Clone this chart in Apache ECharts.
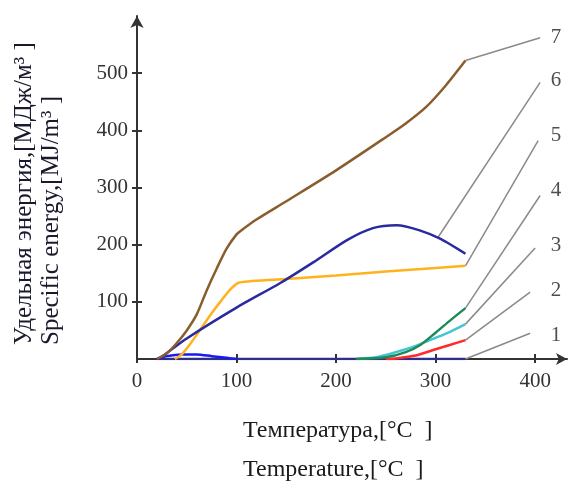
<!DOCTYPE html>
<html>
<head>
<meta charset="utf-8">
<script src="https://cdn.jsdelivr.net/npm/echarts@6/dist/echarts.min.js"></script>
<style>
html,body{margin:0;padding:0;background:#fff;}
#chart{width:571px;height:487px;}
</style>
</head>
<body>
<div id="chart"></div>
<script>
// ---- data (temperature °C, specific energy MJ/m³) ----
const curve7 = [[20,0],[30,10],[40,28],[50,50],[60,78],[70,120],[80,158],[90,193],[100,218],[104,224],[120,244],[150,276],[200,330],[250,388],[270,412],[290,440],[310,478],[330,522]];
const curve6 = [[22,0],[50,36],[100,90],[144,133],[177,169],[211,208],[237,229],[261,234],[284,225],[305,210],[330,184]];
const curve6start = [[20,0],[30,5],[45,8],[60,8],[75,5],[90,2],[100,0]];
const curve5 = [[38,0],[45,8],[55,30],[65,55],[75,80],[85,103],[95,124],[103,134],[150,140],[200,146],[250,153],[300,159],[330,163]];
const curve4 = [[220,0],[250,3],[270,12],[285,25],[300,46],[315,68],[330,89]];
const curve3 = [[220,0],[240,3],[260,12],[280,23],[300,37],[315,48],[330,61]];
const curve2 = [[250,0],[260,1],[280,6],[300,17],[315,25],[330,33]];
const curve1 = [[20,0],[330,0]];
const curveNames = ['7','6','5','4','3','2','1'];
const leaderStarts = [[330,522],[302.5,213],[330,163],[330,89],[330,61],[330,33],[330,0]];
const leaderEnds = [[405,562],[405,484],[403,382],[405,286],[400,194],[395,117],[395,45]];
const labelAnchors = [[421,562],[421,487],[421,391],[421,295],[421,199],[421,120],[421,42]];
const xTicks = [0,100,200,300,400];
const yTicks = [100,200,300,400,500];
const xMax = 432, yMax = 600;
const yTitle1 = 'Удельная энергия,[МДж/м³ ]';
const yTitle2 = 'Specific energy,[MJ/m³ ]';
const xTitle1 = 'Температура,[°C  ]';
const xTitle2 = 'Temperature,[°C  ]';

const serif = '"Liberation Serif","DejaVu Serif",serif';
const chart = echarts.init(document.getElementById('chart'), null, {renderer:'canvas'});

function curve(data, color, z) {
  return {type:'line', data:data, showSymbol:false, symbol:'none', smooth:0.25,
    lineStyle:{color:color, width:2.5}, z:z||3, silent:true, animation:false, xAxisIndex:0, yAxisIndex:0};
}
const series = [
  curve(curve1, '#2e2e8c', 2),
  curve(curve6start, '#1a1aee', 3),
  curve(curve2, '#ff2a2a', 3),
  curve(curve3, '#45c4d4', 3),
  curve(curve4, '#1f8a55', 4),
  curve(curve5, '#ffb21e', 3),
  curve(curve6, '#2a2aa0', 3),
  curve(curve7, '#8a5e2c', 3)
];
leaderStarts.forEach((s,i)=>{
  series.push({type:'line', data:[s, leaderEnds[i]], showSymbol:false, symbol:'none',
    lineStyle:{color:'#8a8a8a', width:1.5}, z:2, silent:true, animation:false});
});
series.push({type:'scatter', symbolSize:0, silent:true, animation:false,
  data: labelAnchors.map((p,i)=>({value:p, name:curveNames[i]})),
  label:{show:true, position:'inside', formatter:p=>p.name, fontFamily:serif, fontSize:21, color:'#222'}});

const labelStyle = {fontFamily:serif, fontSize:21, color:'#333'};
chart.setOption({
  animation:false,
  grid:{left:137, right:4, top:16, bottom:128},
  xAxis:[{
    type:'value', min:0, max:xMax, interval:100, position:'bottom',
    axisLine:{show:true, onZero:false, symbol:['none','arrow'], symbolSize:[9,11], lineStyle:{color:'#333', width:2}},
    axisTick:{show:true, length:4, customValues:xTicks, lineStyle:{color:'#333', width:2}},
    axisLabel:Object.assign({customValues:xTicks, margin:12}, labelStyle),
    splitLine:{show:false}
  },{
    type:'value', min:0, max:xMax, interval:100, position:'bottom',
    axisLine:{show:false}, axisLabel:{show:false},
    axisTick:{show:true, inside:true, length:5, customValues:xTicks, lineStyle:{color:'#333', width:2}},
    splitLine:{show:false}
  }],
  yAxis:[{
    type:'value', min:0, max:yMax, interval:100, position:'left',
    axisLine:{show:true, onZero:false, symbol:['none','arrow'], symbolSize:[10,12], lineStyle:{color:'#333', width:2}},
    axisTick:{show:true, length:5, customValues:yTicks, lineStyle:{color:'#333', width:2}},
    axisLabel:Object.assign({customValues:yTicks, margin:9}, labelStyle),
    splitLine:{show:false}
  },{
    type:'value', min:0, max:yMax, interval:100, position:'left',
    axisLine:{show:false}, axisLabel:{show:false},
    axisTick:{show:true, inside:true, length:5, customValues:yTicks, lineStyle:{color:'#333', width:2}},
    splitLine:{show:false}
  }],
  graphic:[
    {type:'text', rotation:Math.PI/2, x:24, y:345, style:{text:yTitle1, font:'25px '+serif, fill:'#1a1a2e', textAlign:'left', textVerticalAlign:'middle'}},
    {type:'text', rotation:Math.PI/2, x:51, y:345, style:{text:yTitle2, font:'25px '+serif, fill:'#1a1a2e', textAlign:'left', textVerticalAlign:'middle'}},
    {type:'text', x:243, y:431, style:{text:xTitle1, font:'24px '+serif, fill:'#1a1a1a', textAlign:'left', textVerticalAlign:'middle'}},
    {type:'text', x:243, y:470, style:{text:xTitle2, font:'24px '+serif, fill:'#1a1a1a', textAlign:'left', textVerticalAlign:'middle'}}
  ],
  series:series
});
</script>
</body>
</html>
